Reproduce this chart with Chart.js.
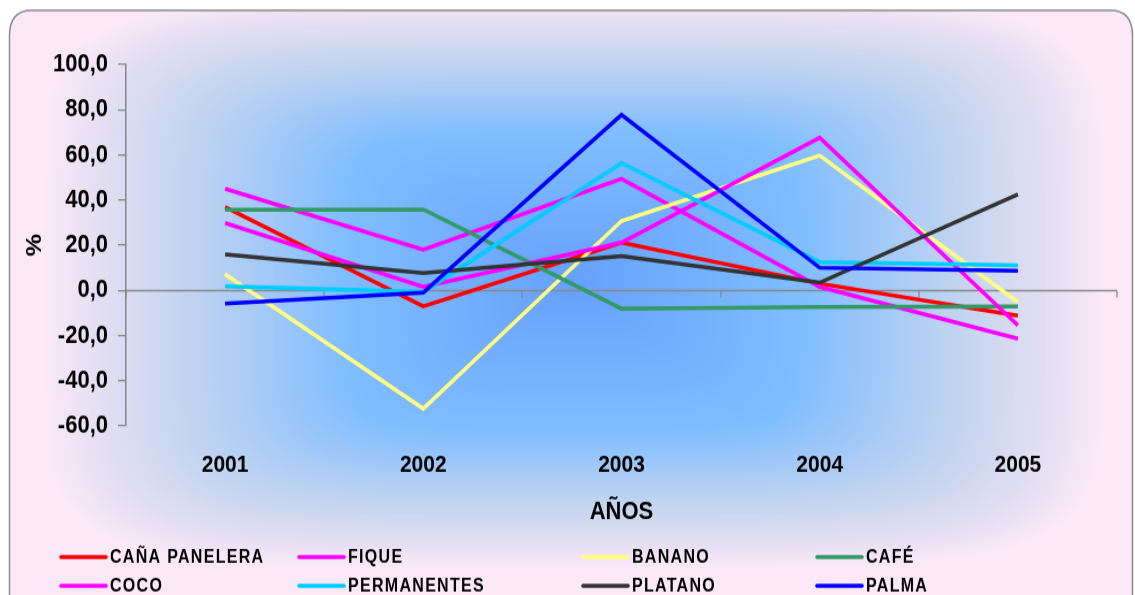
<!DOCTYPE html>
<html>
<head>
<meta charset="utf-8">
<script src="https://cdn.jsdelivr.net/npm/chart.js@4"></script>
<style>
  html, body { margin: 0; padding: 0; background: #fff; }
  #chart { display: block; }
</style>
</head>
<body>
<canvas id="chart" width="1135" height="517" style="width:1135px;height:595px"></canvas>
<script>
// Datos del gráfico (variación % por año)
const years = ['2001', '2002', '2003', '2004', '2005'];

const seriesNames = ['CAÑA PANELERA', 'FIQUE', 'BANANO', 'CAFÉ', 'COCO', 'PERMANENTES', 'PLATANO', 'PALMA'];
const seriesColors = ['#ff0000', '#ff00ff', '#ffff80', '#339966', '#ff00ff', '#00ccff', '#333333', '#0000ff'];

const canaPanelera = [36.9, -7.1, 21.1, 3.0, -11.2];
const fique = [45.0, 18.0, 49.4, 1.5, -21.4];
const banano = [7.1, -52.4, 30.7, 59.7, -5.2];
const cafe = [35.7, 35.8, -8.1, -7.4, -7.1];
const coco = [29.8, 1.5, 21.1, 67.6, -15.5];
const permanentes = [1.8, -0.7, 56.3, 12.5, 11.1];
const platano = [15.9, 7.7, 15.2, 3.4, 42.5];
const palma = [-5.9, -1.0, 77.7, 10.0, 8.6];

const seriesValues = [canaPanelera, fique, banano, cafe, coco, permanentes, platano, palma];

const yMin = -60, yMax = 100, yStep = 20;

// la imagen original esta estirada en vertical (595 / 517)
const SY = 595 / 517;

// fondo: degradado rectangular desde el centro (azul -> lila)
let bgCache = null;
function ramp(d, plateau, fade) {
    if (d <= plateau) return 0.5 * d / plateau;
    return Math.min(1, 0.5 + 0.5 * (d - plateau) / fade);
}
function buildBackground(w, h) {
    const off = document.createElement('canvas');
    off.width = w; off.height = h;
    const c = off.getContext('2d');
    const img = c.createImageData(w, h);
    const stops = [
        [0.00, 102, 160, 250],
        [0.30, 118, 178, 254],
        [0.50, 128, 190, 255],
        [0.62, 160, 200, 248],
        [0.76, 194, 212, 240],
        [0.90, 226, 222, 242],
        [1.00, 251, 233, 248]
    ];
    const cx = 573, cy = 282 / SY, p = 6;
    for (let y = 0; y < h; y++) {
        const uy = ramp(Math.abs(y - cy) * SY, 150, 135);
        for (let x = 0; x < w; x++) {
            const ux = ramp(Math.abs(x - cx), 230, 300);
            let t = Math.pow(Math.pow(ux, p) + Math.pow(uy, p), 1 / p);
            if (t > 1) t = 1;
            let k = 1;
            while (k < stops.length - 1 && stops[k][0] < t) k++;
            const a = stops[k - 1], b = stops[k];
            const f = Math.min(1, Math.max(0, (t - a[0]) / (b[0] - a[0])));
            const i = (y * w + x) * 4;
            img.data[i] = a[1] + (b[1] - a[1]) * f;
            img.data[i + 1] = a[2] + (b[2] - a[2]) * f;
            img.data[i + 2] = a[3] + (b[3] - a[3]) * f;
            img.data[i + 3] = 255;
        }
    }
    c.putImageData(img, 0, 0);
    return off;
}

function roundRectPath(ctx, x, y, w, h, r) {
    ctx.beginPath();
    ctx.moveTo(x + r, y);
    ctx.lineTo(x + w - r, y);
    ctx.quadraticCurveTo(x + w, y, x + w, y + r);
    ctx.lineTo(x + w, y + h - r);
    ctx.quadraticCurveTo(x + w, y + h, x + w - r, y + h);
    ctx.lineTo(x + r, y + h);
    ctx.quadraticCurveTo(x, y + h, x, y + h - r);
    ctx.lineTo(x, y + r);
    ctx.quadraticCurveTo(x, y, x + r, y);
    ctx.closePath();
}

const backgroundPlugin = {
    id: 'fondo',
    beforeDraw(chart) {
        const ctx = chart.ctx;
        if (!bgCache) bgCache = buildBackground(chart.width, chart.height);
        ctx.save();
        ctx.fillStyle = '#fff';
        ctx.fillRect(0, 0, chart.width, chart.height);
        roundRectPath(ctx, 9.5, 9, 1123, 540, 22);
        ctx.save();
        ctx.clip();
        ctx.drawImage(bgCache, 0, 0);
        ctx.restore();
        ctx.strokeStyle = '#8c8c8c';
        ctx.lineWidth = 1.5;
        ctx.stroke();
        ctx.restore();
    }
};

// eje horizontal en el valor 0 con marcas entre categorias
const zeroAxisPlugin = {
    id: 'ejeCero',
    beforeDatasetsDraw(chart) {
        const ctx = chart.ctx;
        const x = chart.scales.x, y = chart.scales.y;
        const y0 = Math.round(y.getPixelForValue(0)) + 0.5;
        const area = chart.chartArea;
        const half = (x.getPixelForValue(1) - x.getPixelForValue(0)) / 2;
        ctx.save();
        ctx.strokeStyle = '#888888';
        ctx.lineWidth = 1.3;
        ctx.beginPath();
        ctx.moveTo(area.left, y0);
        ctx.lineTo(area.right, y0);
        for (let i = 0; i <= years.length; i++) {
            const px = Math.round(x.getPixelForValue(i) - half);
            ctx.moveTo(px, y0);
            ctx.lineTo(px, y0 + 6);
        }
        ctx.stroke();
        ctx.restore();
    }
};

// leyenda dibujada a mano (4 columnas, 2 filas)
const legendCols = [61, 299, 583, 817];
const legendRows = [484, 509];
const legendPlugin = {
    id: 'leyenda',
    afterDraw(chart) {
        const ctx = chart.ctx;
        ctx.save();
        ctx.font = 'bold 16px "Liberation Sans", Arial, sans-serif';
        ctx.letterSpacing = '1.3px';
        ctx.textBaseline = 'middle';
        ctx.fillStyle = '#000';
        chart.data.datasets.forEach((ds, i) => {
            const x0 = legendCols[i % 4];
            const yy = legendRows[Math.floor(i / 4)];
            ctx.strokeStyle = ds.borderColor;
            ctx.lineWidth = 3.6;
            ctx.lineCap = 'round';
            ctx.beginPath();
            ctx.moveTo(x0, yy);
            ctx.lineTo(x0 + 45, yy);
            ctx.stroke();
            ctx.fillText(ds.label, x0 + 49, yy + 1);
        });
        ctx.restore();
    }
};

const ctx = document.getElementById('chart').getContext('2d');
const chart = new Chart(ctx, {
    type: 'line',
    data: {
        labels: years,
        datasets: seriesNames.map((name, i) => ({
            label: name,
            data: seriesValues[i],
            borderColor: seriesColors[i],
            backgroundColor: seriesColors[i],
            borderWidth: 3.5,
            pointRadius: 0,
            tension: 0,
            fill: false,
            order: seriesNames.length - i
        }))
    },
    options: {
        responsive: false,
        animation: false,
        devicePixelRatio: 1,
        layout: { padding: { left: 10, right: 18, top: 56, bottom: 57 } },
        plugins: {
            legend: { display: false },
            tooltip: { enabled: false }
        },
        scales: {
            x: {
                offset: true,
                grid: { display: false, drawTicks: false },
                border: { display: false },
                ticks: {
                    padding: 22,
                    color: '#000',
                    font: { family: '"Liberation Sans", Arial', size: 21, weight: 'bold' }
                },
                title: {
                    display: true,
                    text: 'AÑOS',
                    color: '#000',
                    padding: { top: 0, bottom: 2 },
                    font: { family: '"Liberation Sans", Arial', size: 22, weight: 'bold' }
                },
                afterFit(scale) { scale.height = 90; }
            },
            y: {
                min: yMin,
                max: yMax,
                grid: { drawOnChartArea: false, tickLength: 8, color: '#888888', lineWidth: 1.3 },
                border: { display: true, color: '#888888', width: 1.5 },
                ticks: {
                    stepSize: yStep,
                    padding: 10,
                    color: '#000',
                    font: { family: '"Liberation Sans", Arial', size: 22, weight: 'bold' },
                    callback: v => v.toFixed(1).replace('.', ',')
                },
                title: {
                    display: true,
                    text: '%',
                    color: '#000',
                    padding: { top: 12, bottom: 0 },
                    font: { family: '"Liberation Sans", Arial', size: 22, weight: 'bold' }
                },
                afterFit(scale) { scale.width = 116; }
            }
        }
    },
    plugins: [backgroundPlugin, zeroAxisPlugin, legendPlugin]
});
</script>
</body>
</html>
